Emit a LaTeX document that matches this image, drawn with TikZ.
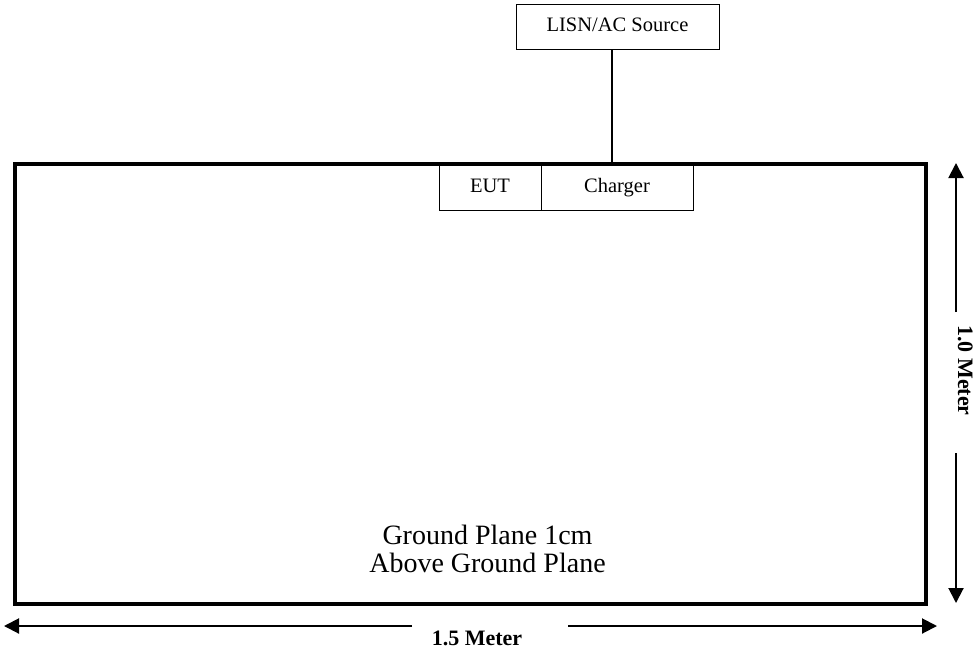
\documentclass[tikz,border=0pt]{standalone}
\usepackage{fontspec}
\setmainfont{Liberation Serif}
\usetikzlibrary{arrows.meta}
\begin{document}
\begin{tikzpicture}[x=1pt,y=-1pt,
  thinbox/.style={draw=black, line width=1pt, inner sep=0pt, outer sep=0pt,
    text height=14pt, text depth=3.5pt,
    font=\fontsize{20.5}{24}\selectfont},
  plane/.style={draw=black, line width=4pt, inner sep=0pt, outer sep=0pt},
  dimarrow/.style={line width=2pt, -{Triangle[length=15pt,width=15pt]}},
  dimlabel/.style={inner sep=0pt, font=\fontsize{22}{26}\selectfont\bfseries},
  conn/.style={line width=1.2pt}]
\useasboundingbox (0,0) rectangle (974,651);
% ground plane
\node[plane, minimum width=910.8pt, minimum height=440pt] (gp) at (470.1,383.5) {};
% boxes
\node[thinbox, minimum width=203pt, minimum height=45pt] (lisn) at (617.5,26.5) {LISN/AC Source};
\node[thinbox, minimum width=102pt, minimum height=46pt] (eut) at (490,187) {EUT};
\node[thinbox, minimum width=152pt, minimum height=46pt] (chg) at (617,187) {Charger};
% connector
\coordinate (tap) at (612,163.5);
\draw[conn] (lisn.south -| tap) -- (tap);
% plane label
\node[inner sep=0pt, align=center, font=\fontsize{28}{28}\selectfont] (gplabel) at (487.5,549) {Ground Plane 1cm\\Above Ground Plane};
% horizontal dimension
\coordinate (hL) at (4,626);
\coordinate (hLg) at (412,626);
\coordinate (hRg) at (568,626);
\coordinate (hR) at (937,626);
\draw[dimarrow] (hLg) -- (hL);
\draw[dimarrow] (hRg) -- (hR);
\node[dimlabel, anchor=base] (hlabel) at (477,645) {1.5 Meter};
% vertical dimension
\coordinate (vT) at (956,163);
\coordinate (vTg) at (956,312);
\coordinate (vBg) at (956,453);
\coordinate (vB) at (956,603);
\draw[dimarrow] (vTg) -- (vT);
\draw[dimarrow] (vBg) -- (vB);
\node[dimlabel, anchor=base, rotate=-90] (vlabel) at (958,370.5) {1.0 Meter};
\end{tikzpicture}
\end{document}
